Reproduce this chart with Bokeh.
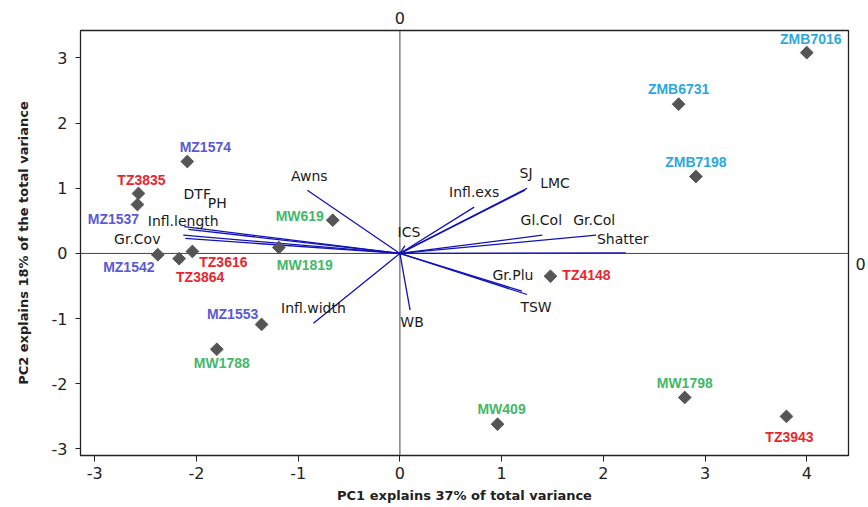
import math
from bokeh.plotting import figure
from bokeh.models import ColumnDataSource, Span, LinearAxis, FixedTicker, Range1d
from bokeh.core.properties import value
from bokeh.embed import file_html
from bokeh.resources import INLINE

# ---- genotype scores (PC1, PC2) ----
genotypes = ["ZMB7016", "ZMB6731", "ZMB7198", "MZ1574", "TZ3835", "MZ1537",
             "MW619", "MW1819", "MZ1542", "TZ3864", "TZ3616", "TZ4148",
             "MZ1553", "MW1788", "MW409", "MW1798", "TZ3943"]
pc1 = [4.00, 2.74, 2.91, -2.09, -2.57, -2.58, -0.66, -1.19, -2.38, -2.17,
       -2.04, 1.48, -1.36, -1.80, 0.96, 2.80, 3.80]
pc2 = [3.08, 2.29, 1.18, 1.41, 0.92, 0.75, 0.51, 0.09, -0.02, -0.08,
       0.03, -0.35, -1.09, -1.47, -2.62, -2.21, -2.50]
groups = ["ZMB", "ZMB", "ZMB", "MZ", "TZ", "MZ", "MW", "MW", "MZ", "TZ",
          "TZ", "TZ", "MZ", "MW", "MW", "MW", "TZ"]

# ---- variable loadings ----
variables = ["Awns", "DTF", "PH", "Infl.length", "Gr.Cov", "Infl.width", "WB",
             "ICS", "Infl.exs", "SJ", "LMC", "Gl.Col", "Gr.Col", "Shatter",
             "Gr.Plu", "TSW"]
load1 = [-0.91, -2.12, -2.08, -2.13, -2.11, -0.85, 0.10, 0.05, 0.73, 1.25,
         1.23, 1.40, 1.93, 2.22, 1.20, 1.25]
load2 = [0.97, 0.41, 0.37, 0.28, 0.23, -1.07, -0.87, 0.12, 0.71, 1.00,
         0.97, 0.28, 0.28, 0.01, -0.58, -0.63]

# ---- axis ticks ----
x_ticks = [-3, -2, -1, 0, 1, 2, 3, 4]
x_tick_labels = ["-3", "-2", "-1", "0", "1", "2", "3", "4"]
y_ticks = [-3, -2, -1, 0, 1, 2, 3]
y_tick_labels = ["-3", "-2", "-1", "0", "1", "2", "3"]

x_title = "PC1 explains 37% of total variance"
y_title = "PC2 explains 18% of the total variance"

# ---- styling ----
group_colors = {"ZMB": "#2aa8e0", "MZ": "#5a5ad4", "TZ": "#e8262f", "MW": "#44b868"}
geno_dx = [4, 0, 0, 18, 3, -24, -33, 26, -29, 21, 31, 36, -29, 5, 4, 0, 3]
geno_dy = [-14, -15, -15, -15, -13, 14, -4, 17, 12, 18, 11, -1, -10, 14, -15, -14, 21]
var_dx = [2, 13, 29, 0, -48, 0, 2, 4, 0, -1, 30, -1, -2, -3, -9, 9]
var_dy = [-14, -33, -26, -14, 1, -15, 12, -14, -15, -15, -7, -15, -15, -14, -16, 13]

tick_font = "DejaVu Sans"

p = figure(width=868, height=507, output_backend="svg", toolbar_location=None,
           x_range=Range1d(-3.14, 4.41), y_range=Range1d(-3.10, 3.42),
           min_border_left=80, min_border_right=18, min_border_top=30,
           min_border_bottom=52)
p.xgrid.visible = False
p.ygrid.visible = False
p.outline_line_color = "#222222"
p.outline_line_width = 1.3
p.background_fill_color = "white"
p.border_fill_color = "white"

# bottom axis
xa = p.xaxis[0]
xa.ticker = FixedTicker(ticks=x_ticks)
xa.major_label_overrides = dict(zip(x_ticks, x_tick_labels))
xa.axis_label = x_title
xa.axis_label_text_font = "DejaVu Sans"
xa.axis_label_text_font_style = "bold"
xa.axis_label_text_font_size = "13px"
xa.axis_label_text_color = "#222222"
xa.axis_label_standoff = 6
xa.major_label_text_font = tick_font
xa.major_label_text_font_size = "16px"
xa.major_label_text_color = "#222222"
xa.major_label_standoff = 5
xa.major_tick_in = 0
xa.major_tick_out = 6
xa.minor_tick_line_color = None
xa.axis_line_color = "#222222"
xa.major_tick_line_color = "#222222"

# left axis
ya = p.yaxis[0]
ya.ticker = FixedTicker(ticks=y_ticks)
ya.major_label_overrides = dict(zip(y_ticks, y_tick_labels))
ya.axis_label = y_title
ya.axis_label_text_font = "DejaVu Sans"
ya.axis_label_text_font_style = "bold"
ya.axis_label_text_font_size = "13px"
ya.axis_label_text_color = "#222222"
ya.axis_label_standoff = 18
ya.major_label_text_font = tick_font
ya.major_label_text_font_size = "16px"
ya.major_label_text_color = "#222222"
ya.major_label_standoff = 8
ya.major_tick_in = 0
ya.major_tick_out = 5
ya.minor_tick_line_color = None
ya.axis_line_color = "#222222"
ya.major_tick_line_color = "#222222"

# top and right axes: only the zero mark
top = LinearAxis(ticker=FixedTicker(ticks=[0]), axis_line_color=None,
                 major_tick_line_color=None, minor_tick_line_color=None,
                 major_label_standoff=1, major_label_text_font=tick_font,
                 major_label_text_font_size="16px", major_label_text_color="#222222")
p.add_layout(top, "above")
right = LinearAxis(ticker=FixedTicker(ticks=[0]), axis_line_color=None,
                   major_tick_line_color=None, minor_tick_line_color=None,
                   major_label_standoff=1, major_label_text_font=tick_font,
                   major_label_text_font_size="16px", major_label_text_color="#222222",
                   major_label_overrides={0: "\n0"})
p.add_layout(right, "right")

# zero lines
p.add_layout(Span(location=0, dimension="width", line_color="#444444",
                  line_width=1, level="underlay"))
p.add_layout(Span(location=0, dimension="height", line_color="#444444",
                  line_width=1, level="underlay"))

# loading vectors
vsrc = ColumnDataSource(dict(name=variables, x=load1, y=load2, dx=var_dx, dy=var_dy))
p.segment(x0=0, y0=0, x1="x", y1="y", source=vsrc, line_color="#1212b8", line_width=1.3)
p.text(x="x", y="y", text="name", x_offset="dx", y_offset="dy", source=vsrc,
       text_align="center", text_baseline="middle", text_font=value("DejaVu Sans"),
       text_font_size="14px", text_color="#1a1a1a")

# genotype points
gsrc = ColumnDataSource(dict(name=genotypes, x=pc1, y=pc2, dx=geno_dx, dy=geno_dy,
                             color=[group_colors[g] for g in groups]))
p.scatter("x", "y", source=gsrc, marker="square", angle=math.pi / 4, size=9,
          fill_color="#555555", line_color="#555555")
p.text(x="x", y="y", text="name", x_offset="dx", y_offset="dy", source=gsrc,
       text_align="center", text_baseline="middle", text_font=value("Liberation Sans"),
       text_font_style="bold", text_font_size="14px", text_color="color")

open("out.html", "w").write(file_html(p, INLINE))
